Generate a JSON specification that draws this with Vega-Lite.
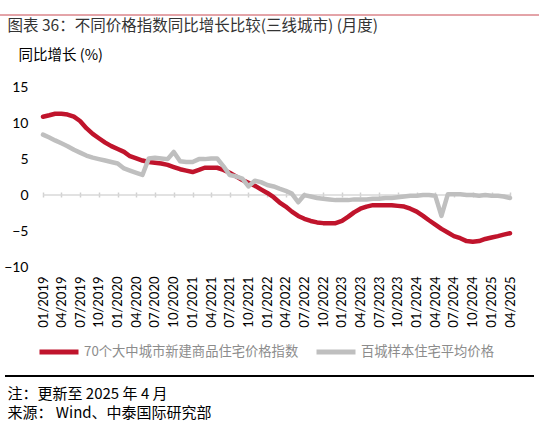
{
  "$schema": "https://vega.github.io/schema/vega-lite/v6.json",
  "width": 467,
  "height": 187,
  "autosize": {"type": "none"},
  "padding": {"left": 43, "top": 80, "right": 29, "bottom": 158},
  "background": "white",
  "config": {"view": {"stroke": null}, "font": "Noto Sans CJK SC"},
  "data": {"values": [
    {"date": "2019-01-01", "70个大中城市新建商品住宅价格指数": 10.9, "百城样本住宅平均价格": 8.4},
    {"date": "2019-02-01", "70个大中城市新建商品住宅价格指数": 11.1, "百城样本住宅平均价格": 8.0},
    {"date": "2019-03-01", "70个大中城市新建商品住宅价格指数": 11.3, "百城样本住宅平均价格": 7.6},
    {"date": "2019-04-01", "70个大中城市新建商品住宅价格指数": 11.3, "百城样本住宅平均价格": 7.2},
    {"date": "2019-05-01", "70个大中城市新建商品住宅价格指数": 11.2, "百城样本住宅平均价格": 6.8},
    {"date": "2019-06-01", "70个大中城市新建商品住宅价格指数": 10.9, "百城样本住宅平均价格": 6.3},
    {"date": "2019-07-01", "70个大中城市新建商品住宅价格指数": 10.3, "百城样本住宅平均价格": 5.9},
    {"date": "2019-08-01", "70个大中城市新建商品住宅价格指数": 9.3, "百城样本住宅平均价格": 5.5},
    {"date": "2019-09-01", "70个大中城市新建商品住宅价格指数": 8.5, "百城样本住宅平均价格": 5.2},
    {"date": "2019-10-01", "70个大中城市新建商品住宅价格指数": 7.9, "百城样本住宅平均价格": 5.0},
    {"date": "2019-11-01", "70个大中城市新建商品住宅价格指数": 7.3, "百城样本住宅平均价格": 4.8},
    {"date": "2019-12-01", "70个大中城市新建商品住宅价格指数": 6.8, "百城样本住宅平均价格": 4.6},
    {"date": "2020-01-01", "70个大中城市新建商品住宅价格指数": 6.4, "百城样本住宅平均价格": 4.4},
    {"date": "2020-02-01", "70个大中城市新建商品住宅价格指数": 6.0, "百城样本住宅平均价格": 3.7},
    {"date": "2020-03-01", "70个大中城市新建商品住宅价格指数": 5.4, "百城样本住宅平均价格": 3.4},
    {"date": "2020-04-01", "70个大中城市新建商品住宅价格指数": 5.1, "百城样本住宅平均价格": 3.1},
    {"date": "2020-05-01", "70个大中城市新建商品住宅价格指数": 4.8, "百城样本住宅平均价格": 2.8},
    {"date": "2020-06-01", "70个大中城市新建商品住宅价格指数": 4.6, "百城样本住宅平均价格": 5.1},
    {"date": "2020-07-01", "70个大中城市新建商品住宅价格指数": 4.5, "百城样本住宅平均价格": 5.2},
    {"date": "2020-08-01", "70个大中城市新建商品住宅价格指数": 4.4, "百城样本住宅平均价格": 5.1},
    {"date": "2020-09-01", "70个大中城市新建商品住宅价格指数": 4.2, "百城样本住宅平均价格": 5.0},
    {"date": "2020-10-01", "70个大中城市新建商品住宅价格指数": 3.9, "百城样本住宅平均价格": 6.0},
    {"date": "2020-11-01", "70个大中城市新建商品住宅价格指数": 3.6, "百城样本住宅平均价格": 4.7},
    {"date": "2020-12-01", "70个大中城市新建商品住宅价格指数": 3.4, "百城样本住宅平均价格": 4.6},
    {"date": "2021-01-01", "70个大中城市新建商品住宅价格指数": 3.2, "百城样本住宅平均价格": 4.6},
    {"date": "2021-02-01", "70个大中城市新建商品住宅价格指数": 3.5, "百城样本住宅平均价格": 5.0},
    {"date": "2021-03-01", "70个大中城市新建商品住宅价格指数": 3.8, "百城样本住宅平均价格": 5.0},
    {"date": "2021-04-01", "70个大中城市新建商品住宅价格指数": 3.8, "百城样本住宅平均价格": 5.1},
    {"date": "2021-05-01", "70个大中城市新建商品住宅价格指数": 3.8, "百城样本住宅平均价格": 5.1},
    {"date": "2021-06-01", "70个大中城市新建商品住宅价格指数": 3.5, "百城样本住宅平均价格": 4.0},
    {"date": "2021-07-01", "70个大中城市新建商品住宅价格指数": 3.1, "百城样本住宅平均价格": 2.8},
    {"date": "2021-08-01", "70个大中城市新建商品住宅价格指数": 2.6, "百城样本住宅平均价格": 2.6},
    {"date": "2021-09-01", "70个大中城市新建商品住宅价格指数": 2.1, "百城样本住宅平均价格": 2.3},
    {"date": "2021-10-01", "70个大中城市新建商品住宅价格指数": 1.7, "百城样本住宅平均价格": 1.2},
    {"date": "2021-11-01", "70个大中城市新建商品住宅价格指数": 1.3, "百城样本住宅平均价格": 2.0},
    {"date": "2021-12-01", "70个大中城市新建商品住宅价格指数": 0.8, "百城样本住宅平均价格": 1.8},
    {"date": "2022-01-01", "70个大中城市新建商品住宅价格指数": 0.3, "百城样本住宅平均价格": 1.4},
    {"date": "2022-02-01", "70个大中城市新建商品住宅价格指数": -0.3, "百城样本住宅平均价格": 1.2},
    {"date": "2022-03-01", "70个大中城市新建商品住宅价格指数": -1.0, "百城样本住宅平均价格": 0.9},
    {"date": "2022-04-01", "70个大中城市新建商品住宅价格指数": -1.6, "百城样本住宅平均价格": 0.6},
    {"date": "2022-05-01", "70个大中城市新建商品住宅价格指数": -2.3, "百城样本住宅平均价格": 0.2},
    {"date": "2022-06-01", "70个大中城市新建商品住宅价格指数": -2.9, "百城样本住宅平均价格": -1.0},
    {"date": "2022-07-01", "70个大中城市新建商品住宅价格指数": -3.3, "百城样本住宅平均价格": 0.0},
    {"date": "2022-08-01", "70个大中城市新建商品住宅价格指数": -3.6, "百城样本住宅平均价格": -0.2},
    {"date": "2022-09-01", "70个大中城市新建商品住宅价格指数": -3.8, "百城样本住宅平均价格": -0.4},
    {"date": "2022-10-01", "70个大中城市新建商品住宅价格指数": -3.9, "百城样本住宅平均价格": -0.5},
    {"date": "2022-11-01", "70个大中城市新建商品住宅价格指数": -3.9, "百城样本住宅平均价格": -0.6},
    {"date": "2022-12-01", "70个大中城市新建商品住宅价格指数": -3.9, "百城样本住宅平均价格": -0.7},
    {"date": "2023-01-01", "70个大中城市新建商品住宅价格指数": -3.6, "百城样本住宅平均价格": -0.7},
    {"date": "2023-02-01", "70个大中城市新建商品住宅价格指数": -3.0, "百城样本住宅平均价格": -0.7},
    {"date": "2023-03-01", "70个大中城市新建商品住宅价格指数": -2.4, "百城样本住宅平均价格": -0.6},
    {"date": "2023-04-01", "70个大中城市新建商品住宅价格指数": -1.9, "百城样本住宅平均价格": -0.6},
    {"date": "2023-05-01", "70个大中城市新建商品住宅价格指数": -1.6, "百城样本住宅平均价格": -0.6},
    {"date": "2023-06-01", "70个大中城市新建商品住宅价格指数": -1.4, "百城样本住宅平均价格": -0.5},
    {"date": "2023-07-01", "70个大中城市新建商品住宅价格指数": -1.4, "百城样本住宅平均价格": -0.5},
    {"date": "2023-08-01", "70个大中城市新建商品住宅价格指数": -1.4, "百城样本住宅平均价格": -0.4},
    {"date": "2023-09-01", "70个大中城市新建商品住宅价格指数": -1.4, "百城样本住宅平均价格": -0.4},
    {"date": "2023-10-01", "70个大中城市新建商品住宅价格指数": -1.5, "百城样本住宅平均价格": -0.3},
    {"date": "2023-11-01", "70个大中城市新建商品住宅价格指数": -1.6, "百城样本住宅平均价格": -0.2},
    {"date": "2023-12-01", "70个大中城市新建商品住宅价格指数": -1.9, "百城样本住宅平均价格": -0.1},
    {"date": "2024-01-01", "70个大中城市新建商品住宅价格指数": -2.3, "百城样本住宅平均价格": -0.1},
    {"date": "2024-02-01", "70个大中城市新建商品住宅价格指数": -2.9, "百城样本住宅平均价格": 0.0},
    {"date": "2024-03-01", "70个大中城市新建商品住宅价格指数": -3.5, "百城样本住宅平均价格": 0.0},
    {"date": "2024-04-01", "70个大中城市新建商品住宅价格指数": -4.1, "百城样本住宅平均价格": -0.1},
    {"date": "2024-05-01", "70个大中城市新建商品住宅价格指数": -4.7, "百城样本住宅平均价格": -2.9},
    {"date": "2024-06-01", "70个大中城市新建商品住宅价格指数": -5.2, "百城样本住宅平均价格": 0.1},
    {"date": "2024-07-01", "70个大中城市新建商品住宅价格指数": -5.7, "百城样本住宅平均价格": 0.1},
    {"date": "2024-08-01", "70个大中城市新建商品住宅价格指数": -6.0, "百城样本住宅平均价格": 0.1},
    {"date": "2024-09-01", "70个大中城市新建商品住宅价格指数": -6.4, "百城样本住宅平均价格": 0.0},
    {"date": "2024-10-01", "70个大中城市新建商品住宅价格指数": -6.5, "百城样本住宅平均价格": 0.0},
    {"date": "2024-11-01", "70个大中城市新建商品住宅价格指数": -6.4, "百城样本住宅平均价格": -0.1},
    {"date": "2024-12-01", "70个大中城市新建商品住宅价格指数": -6.1, "百城样本住宅平均价格": 0.0},
    {"date": "2025-01-01", "70个大中城市新建商品住宅价格指数": -5.9, "百城样本住宅平均价格": -0.1},
    {"date": "2025-02-01", "70个大中城市新建商品住宅价格指数": -5.7, "百城样本住宅平均价格": -0.1},
    {"date": "2025-03-01", "70个大中城市新建商品住宅价格指数": -5.5, "百城样本住宅平均价格": -0.2},
    {"date": "2025-04-01", "70个大中城市新建商品住宅价格指数": -5.3, "百城样本住宅平均价格": -0.4}
  ]},
  "transform": [
    {"fold": ["70个大中城市新建商品住宅价格指数", "百城样本住宅平均价格"], "as": ["series", "value"]}
  ],
  "resolve": {"axis": {"x": "independent", "y": "independent"}},
  "layer": [
    {
      "mark": {"type": "line", "color": "#d9d9d9", "strokeWidth": 1.5},
      "encoding": {
        "x": {"field": "date", "type": "temporal",
          "scale": {"type": "utc", "domain": [{"year": 2019, "month": 1, "date": 1, "utc": true}, {"year": 2025, "month": 4, "date": 1, "utc": true}]},
          "axis": {"orient": "bottom", "offset": -75, "labels": false, "domain": false, "ticks": true, "tickColor": "#d0d0d0", "tickSize": 5, "tickWidth": 1.5, "grid": false, "title": null, "tickCount": {"interval": "month", "step": 3}}},
        "y": {"datum": 0, "scale": {"domain": [-10, 15]}, "axis": null}
      }
    },
    {
      "mark": {"type": "line", "strokeWidth": 4.5, "strokeJoin": "round", "strokeCap": "round"},
      "encoding": {
        "x": {"field": "date", "type": "temporal",
          "scale": {"type": "utc", "domain": [{"year": 2019, "month": 1, "date": 1, "utc": true}, {"year": 2025, "month": 4, "date": 1, "utc": true}]},
          "axis": {"orient": "bottom", "domain": false, "ticks": false, "grid": false, "title": null, "format": "%m/%Y", "labelAngle": -90, "labelFont": "Lato", "labelFontSize": 13, "labelColor": "#000", "labelPadding": 9, "labelOverlap": false, "labelFlush": false, "tickCount": {"interval": "month", "step": 3}}},
        "y": {"field": "value", "type": "quantitative", "scale": {"domain": [-10, 15]},
          "axis": {"orient": "left", "values": [-10, -5, 0, 5, 10, 15], "domain": false, "ticks": false, "grid": false, "labelFont": "Lato", "labelFontSize": 14, "labelColor": "#000", "labelPadding": 15,
            "title": "同比增长 (%)", "titleAngle": 0, "titleAlign": "left", "titleBaseline": "middle", "titleX": -25, "titleY": -25, "titleFont": "Noto Sans CJK SC", "titleFontSize": 14.5, "titleFontWeight": "normal", "titleColor": "#000"}},
        "color": {"field": "series", "type": "nominal",
          "scale": {"domain": ["70个大中城市新建商品住宅价格指数", "百城样本住宅平均价格"], "range": ["#c0142c", "#bfbfbf"]},
          "legend": {"orient": "none", "legendX": -6, "legendY": 250, "direction": "horizontal", "title": null, "symbolType": "stroke", "symbolSize": 1521, "symbolStrokeWidth": 5, "labelFont": "Noto Sans CJK SC", "labelFontSize": 13.3, "labelColor": "#8c8c8c", "labelLimit": 400, "columnPadding": 7, "labelOffset": 3}}
      }
    },
    {
      "mark": {"type": "rule", "color": "#000000", "strokeWidth": 1.2},
      "encoding": {
        "x": {"datum": {"year": 2018, "month": 7, "date": 1, "utc": true}, "type": "temporal", "scale": {"type": "utc", "domain": [{"year": 2019, "month": 1, "date": 1, "utc": true}, {"year": 2025, "month": 4, "date": 1, "utc": true}]}, "axis": null},
        "x2": {"datum": {"year": 2025, "month": 7, "date": 25, "utc": true}},
        "y": {"datum": -25.17, "scale": {"domain": [-10, 15]}, "axis": null}
      }
    },
    {
      "mark": {"type": "rule", "color": "#e3a3a8", "strokeWidth": 1.2},
      "encoding": {
        "x": {"datum": {"year": 2018, "month": 6, "date": 1, "utc": true}, "type": "temporal", "scale": {"type": "utc", "domain": [{"year": 2019, "month": 1, "date": 1, "utc": true}, {"year": 2025, "month": 4, "date": 1, "utc": true}]}, "axis": null},
        "x2": {"datum": {"year": 2025, "month": 8, "date": 20, "utc": true}},
        "y": {"datum": 25.03, "scale": {"domain": [-10, 15]}, "axis": null}
      }
    },
    {
      "mark": {"type": "line", "strokeOpacity": 0},
      "encoding": {
        "x": {"field": "date", "type": "temporal",
          "scale": {"type": "utc", "domain": [{"year": 2019, "month": 1, "date": 1, "utc": true}, {"year": 2025, "month": 4, "date": 1, "utc": true}]},
          "axis": {"orient": "bottom", "offset": 113, "labels": false, "ticks": false, "grid": false, "domain": false,
            "title": ["注：更新至 2025 年 4 月", "来源： Wind、中泰国际研究部"], "titleAlign": "left", "titleX": -36, "titleY": 6, "titleBaseline": "top", "titleFont": "Noto Sans CJK SC", "titleFontSize": 15, "titleFontWeight": "normal", "titleColor": "#000", "titleLineHeight": 19}},
        "y": {"datum": 0, "axis": null}
      }
    },
    {
      "mark": {"type": "line", "strokeOpacity": 0},
      "encoding": {
        "x": {"field": "date", "type": "temporal",
          "scale": {"type": "utc", "domain": [{"year": 2019, "month": 1, "date": 1, "utc": true}, {"year": 2025, "month": 4, "date": 1, "utc": true}]},
          "axis": {"orient": "top", "offset": 75, "labels": false, "ticks": false, "grid": false, "domain": false,
            "title": "图表 36：不同价格指数同比增长比较(三线城市) (月度)", "titleAlign": "left", "titleX": -36, "titleY": 20, "titleBaseline": "middle", "titleFont": "Noto Sans CJK SC", "titleFontSize": 15.5, "titleFontWeight": "normal", "titleColor": "#333"}},
        "y": {"datum": 0, "axis": null}
      }
    }
  ]
}
